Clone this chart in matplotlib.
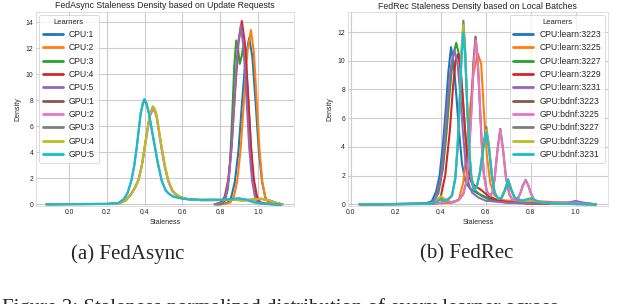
import matplotlib
matplotlib.use("Agg")
import matplotlib.pyplot as plt
import seaborn as sns

# FedAsync: staleness density per learner as (staleness, density) knots
fa_labels = ["CPU:1", "CPU:2", "CPU:3", "CPU:4", "CPU:5",
             "GPU:1", "GPU:2", "GPU:3", "GPU:4", "GPU:5"]

fa_cpu1 = [(0.78, 0.0), (0.81, 0.02), (0.839, 0.14), (0.858, 0.56), (0.877, 1.73), (0.896, 4.1),
           (0.915, 7.8), (0.934, 11.3), (0.953, 12.8), (0.970, 11.3), (0.987, 7.8), (1.004, 4.1),
           (1.021, 1.73), (1.038, 0.56), (1.055, 0.14), (1.09, 0.02), (1.12, 0.0)]
fa_cpu2 = [(0.78, 0.0), (0.82, 0.02), (0.854, 0.15), (0.872, 0.59), (0.890, 1.81), (0.908, 4.29),
           (0.926, 8.17), (0.944, 11.8), (0.962, 13.4), (0.977, 11.8), (0.992, 8.17), (1.007, 4.29),
           (1.022, 1.81), (1.037, 0.59), (1.052, 0.15), (1.09, 0.02), (1.12, 0.0)]
fa_cpu3 = [(0.78, 0.0), (0.81, 0.05), (0.825, 0.3), (0.84, 1.2), (0.852, 3.2), (0.863, 6.8),
           (0.874, 10.6), (0.884, 12.6), (0.894, 11.9), (0.903, 10.8), (0.913, 11.4), (0.923, 12.3),
           (0.933, 11.6), (0.945, 9.0), (0.958, 5.5), (0.970, 2.6), (0.983, 0.9), (0.996, 0.25),
           (1.02, 0.05), (1.12, 0.0)]
fa_cpu4 = [(0.77, 0.0), (0.806, 0.16), (0.824, 0.62), (0.842, 1.9), (0.860, 4.5), (0.878, 8.6),
           (0.896, 12.4), (0.914, 14.1), (0.930, 12.4), (0.946, 8.6), (0.962, 4.5), (0.978, 1.9),
           (0.994, 0.62), (1.010, 0.16), (1.05, 0.02), (1.12, 0.0)]
fa_cpu5 = [(0.77, 0.0), (0.812, 0.15), (0.828, 0.6), (0.844, 1.86), (0.860, 4.4), (0.876, 8.39),
           (0.892, 12.1), (0.908, 13.75), (0.923, 12.1), (0.938, 8.39), (0.953, 4.4), (0.968, 1.86),
           (0.983, 0.6), (0.998, 0.15), (1.04, 0.02), (1.12, 0.0)]
fa_gpu1 = [(-0.12, 0.0), (0.0, 0.02), (0.2, 0.03), (0.27, 0.1), (0.30, 0.3), (0.33, 0.8),
           (0.35, 1.3), (0.367, 1.85), (0.385, 3.0), (0.40, 4.4), (0.415, 5.8), (0.428, 6.9),
           (0.443, 7.45), (0.455, 7.2), (0.464, 6.7), (0.477, 5.5), (0.49, 4.3), (0.507, 2.9),
           (0.525, 1.8), (0.545, 1.1), (0.56, 0.82), (0.59, 0.55), (0.63, 0.4), (0.70, 0.32),
           (0.80, 0.33), (0.87, 0.36), (0.92, 0.3), (0.97, 0.36), (1.02, 0.42), (1.06, 0.3),
           (1.10, 0.1), (1.13, 0.0)]
fa_gpu2 = [(-0.12, 0.0), (0.0, 0.02), (0.2, 0.03), (0.27, 0.1), (0.30, 0.35), (0.33, 0.85),
           (0.35, 1.35), (0.367, 1.9), (0.385, 3.0), (0.40, 4.3), (0.415, 5.7), (0.428, 6.8),
           (0.445, 7.3), (0.456, 7.05), (0.465, 6.6), (0.477, 5.4), (0.49, 4.2), (0.507, 2.8),
           (0.525, 1.75), (0.545, 1.05), (0.56, 0.8), (0.59, 0.52), (0.63, 0.4), (0.70, 0.33),
           (0.80, 0.34), (0.87, 0.37), (0.92, 0.32), (0.97, 0.38), (1.01, 0.44), (1.06, 0.3),
           (1.10, 0.1), (1.13, 0.0)]
fa_gpu3 = [(-0.12, 0.0), (0.0, 0.02), (0.2, 0.03), (0.26, 0.1), (0.29, 0.4), (0.31, 0.9),
           (0.33, 1.85), (0.345, 3.0), (0.358, 4.4), (0.37, 5.9), (0.379, 7.0), (0.39, 7.7),
           (0.399, 8.0), (0.41, 7.7), (0.423, 6.9), (0.44, 5.5), (0.455, 4.3), (0.47, 3.1),
           (0.49, 1.8), (0.51, 1.1), (0.525, 0.85), (0.55, 0.6), (0.60, 0.44), (0.65, 0.36),
           (0.70, 0.35), (0.75, 0.36), (0.80, 0.35), (0.85, 0.38), (0.895, 0.45), (0.94, 0.35),
           (0.98, 0.15), (1.02, 0.05), (1.12, 0.0)]
fa_gpu4 = [(-0.12, 0.0), (0.0, 0.02), (0.2, 0.03), (0.27, 0.1), (0.30, 0.3), (0.33, 0.8),
           (0.35, 1.3), (0.367, 1.85), (0.385, 3.0), (0.40, 4.4), (0.415, 5.8), (0.428, 7.0),
           (0.443, 7.55), (0.455, 7.3), (0.464, 6.8), (0.477, 5.6), (0.49, 4.4), (0.507, 3.0),
           (0.525, 1.85), (0.545, 1.15), (0.56, 0.85), (0.59, 0.55), (0.63, 0.4), (0.70, 0.32),
           (0.80, 0.33), (0.87, 0.35), (0.92, 0.3), (0.97, 0.35), (1.02, 0.42), (1.06, 0.3),
           (1.10, 0.1), (1.13, 0.0)]
fa_gpu5 = [(-0.12, 0.0), (0.0, 0.02), (0.2, 0.03), (0.26, 0.1), (0.29, 0.4), (0.31, 0.9),
           (0.33, 1.85), (0.345, 3.0), (0.358, 4.4), (0.37, 5.9), (0.379, 7.0), (0.39, 7.8),
           (0.398, 8.1), (0.41, 7.8), (0.423, 7.0), (0.44, 5.6), (0.455, 4.4), (0.47, 3.2),
           (0.49, 1.85), (0.51, 1.1), (0.525, 0.85), (0.55, 0.6), (0.60, 0.44), (0.65, 0.36),
           (0.70, 0.35), (0.75, 0.36), (0.80, 0.35), (0.85, 0.38), (0.895, 0.47), (0.94, 0.35),
           (0.98, 0.15), (1.02, 0.05), (1.12, 0.0)]

# FedRec: staleness density per learner
fr_labels = ["CPU:learn:3223", "CPU:learn:3225", "CPU:learn:3227", "CPU:learn:3229",
             "CPU:learn:3231", "GPU:bdnf:3223", "GPU:bdnf:3225", "GPU:bdnf:3227",
             "GPU:bdnf:3229", "GPU:bdnf:3231"]

fr_cpu3223 = [(0.04, 0.0), (0.2, 0.02), (0.33, 0.05), (0.36, 0.2), (0.38, 0.9), (0.395, 2.0),
              (0.41, 4.2), (0.422, 6.5), (0.434, 9.2), (0.446, 10.95), (0.458, 9.8), (0.47, 7.5),
              (0.482, 5.0), (0.495, 2.8), (0.51, 1.6), (0.53, 1.1), (0.56, 0.8), (0.60, 0.5),
              (0.65, 0.25), (0.70, 0.15), (0.80, 0.1), (0.90, 0.05), (1.09, 0.0)]
fr_cpu3225 = [(0.04, 0.0), (0.3, 0.02), (0.45, 0.1), (0.48, 0.3), (0.50, 1.5), (0.515, 3.5),
              (0.53, 6.5), (0.545, 9.0), (0.565, 10.5), (0.58, 9.8), (0.592, 6.5), (0.605, 3.5),
              (0.62, 1.5), (0.64, 0.6), (0.67, 0.3), (0.70, 0.25), (0.80, 0.25), (0.90, 0.15),
              (1.0, 0.1), (1.09, 0.0)]
fr_cpu3227 = [(0.04, 0.0), (0.3, 0.03), (0.35, 0.08), (0.37, 0.2), (0.39, 0.8), (0.41, 2.5),
              (0.425, 4.8), (0.44, 7.8), (0.455, 10.3), (0.469, 11.25), (0.482, 10.4), (0.495, 8.0),
              (0.508, 5.2), (0.52, 3.0), (0.535, 1.6), (0.55, 1.0), (0.58, 0.6), (0.62, 0.3),
              (0.70, 0.1), (0.80, 0.05), (1.09, 0.0)]
fr_cpu3229 = [(0.04, 0.0), (0.3, 0.03), (0.38, 0.1), (0.40, 0.5), (0.42, 2.0), (0.44, 5.0),
              (0.455, 8.2), (0.466, 10.0), (0.477, 10.45), (0.488, 9.6), (0.498, 7.5), (0.51, 4.8),
              (0.52, 2.8), (0.53, 1.8), (0.55, 1.3), (0.58, 1.0), (0.61, 0.6), (0.65, 0.3),
              (0.70, 0.15), (0.80, 0.05), (1.09, 0.0)]
fr_cpu3231 = [(0.04, 0.0), (0.3, 0.03), (0.36, 0.1), (0.38, 0.5), (0.40, 1.8), (0.415, 4.0),
              (0.43, 7.0), (0.445, 9.6), (0.461, 10.75), (0.475, 9.8), (0.488, 7.5), (0.50, 4.8),
              (0.512, 2.6), (0.525, 1.4), (0.54, 0.8), (0.57, 0.45), (0.60, 0.25), (0.70, 0.1),
              (0.90, 0.05), (0.96, 0.1), (1.0, 0.23), (1.04, 0.1), (1.09, 0.0)]
fr_gpu3223 = [(0.04, 0.0), (0.35, 0.02), (0.40, 0.1), (0.43, 0.2), (0.45, 0.15), (0.48, 0.3),
              (0.50, 0.7), (0.515, 1.6), (0.525, 3.4), (0.535, 6.2), (0.545, 9.8), (0.555, 11.68),
              (0.564, 10.2), (0.572, 7.6), (0.582, 4.4), (0.592, 2.1), (0.605, 0.9), (0.62, 0.6),
              (0.63, 0.8), (0.64, 1.8), (0.652, 3.7), (0.665, 5.25), (0.678, 3.7), (0.69, 1.9),
              (0.705, 0.7), (0.72, 0.3), (0.74, 0.3), (0.755, 0.8), (0.765, 1.3), (0.778, 1.69),
              (0.79, 1.3), (0.80, 0.8), (0.815, 0.3), (0.84, 0.15), (0.90, 0.1), (1.0, 0.1),
              (1.09, 0.0)]
fr_gpu3225 = [(0.04, 0.0), (0.35, 0.02), (0.40, 0.1), (0.43, 0.2), (0.45, 0.15), (0.48, 0.3),
              (0.50, 0.7), (0.515, 1.6), (0.525, 3.3), (0.536, 6.2), (0.546, 9.6), (0.556, 11.45),
              (0.565, 10.0), (0.573, 7.5), (0.582, 4.3), (0.592, 2.0), (0.605, 0.9), (0.62, 0.6),
              (0.63, 0.8), (0.64, 1.8), (0.652, 3.7), (0.665, 5.2), (0.678, 3.7), (0.69, 1.9),
              (0.705, 0.7), (0.72, 0.3), (0.74, 0.3), (0.755, 0.8), (0.765, 1.3), (0.778, 1.65),
              (0.79, 1.3), (0.80, 0.8), (0.815, 0.3), (0.84, 0.15), (0.90, 0.1), (1.0, 0.1),
              (1.09, 0.0)]
fr_gpu3227 = [(0.04, 0.0), (0.35, 0.03), (0.37, 0.1), (0.39, 0.3), (0.40, 0.45), (0.41, 0.35),
              (0.43, 0.3), (0.45, 0.6), (0.465, 1.8), (0.475, 4.0), (0.485, 7.5), (0.493, 10.8),
              (0.501, 12.8), (0.509, 10.8), (0.517, 7.3), (0.525, 4.2), (0.535, 2.0), (0.548, 1.0),
              (0.56, 1.2), (0.575, 2.3), (0.59, 4.2), (0.603, 5.4), (0.615, 4.0), (0.628, 2.0),
              (0.64, 0.8), (0.655, 0.4), (0.67, 0.4), (0.685, 0.9), (0.70, 1.5), (0.715, 0.9),
              (0.73, 0.4), (0.76, 0.25), (0.80, 0.35), (0.84, 0.15), (0.90, 0.05), (1.09, 0.0)]
fr_gpu3229 = [(0.04, 0.0), (0.35, 0.03), (0.37, 0.1), (0.385, 0.35), (0.402, 0.56), (0.415, 0.4),
              (0.43, 0.3), (0.45, 0.6), (0.465, 1.8), (0.475, 4.0), (0.485, 7.4), (0.493, 10.6),
              (0.501, 12.5), (0.509, 10.6), (0.517, 7.2), (0.525, 4.1), (0.535, 2.0), (0.548, 1.0),
              (0.56, 1.2), (0.575, 2.2), (0.59, 4.0), (0.603, 5.2), (0.615, 3.9), (0.628, 2.0),
              (0.64, 0.8), (0.655, 0.4), (0.67, 0.45), (0.685, 1.0), (0.70, 1.7), (0.715, 1.0),
              (0.73, 0.45), (0.76, 0.25), (0.80, 0.3), (0.84, 0.15), (0.90, 0.05), (1.09, 0.0)]
fr_gpu3231 = [(0.04, 0.0), (0.35, 0.03), (0.37, 0.1), (0.39, 0.25), (0.40, 0.3), (0.41, 0.25),
              (0.43, 0.3), (0.45, 0.6), (0.465, 1.8), (0.475, 3.9), (0.485, 7.2), (0.493, 10.2),
              (0.501, 12.0), (0.509, 10.2), (0.518, 6.8), (0.527, 3.8), (0.537, 1.9), (0.548, 1.0),
              (0.56, 1.2), (0.575, 2.2), (0.59, 3.9), (0.603, 5.0), (0.615, 3.8), (0.628, 1.9),
              (0.64, 0.8), (0.655, 0.4), (0.67, 0.45), (0.685, 1.0), (0.70, 1.74), (0.715, 1.0),
              (0.73, 0.45), (0.76, 0.25), (0.80, 0.42), (0.84, 0.15), (0.90, 0.05), (1.09, 0.0)]

fa_series = [fa_cpu1, fa_cpu2, fa_cpu3, fa_cpu4, fa_cpu5,
             fa_gpu1, fa_gpu2, fa_gpu3, fa_gpu4, fa_gpu5]
fr_series = [fr_cpu3223, fr_cpu3225, fr_cpu3227, fr_cpu3229, fr_cpu3231,
             fr_gpu3223, fr_gpu3225, fr_gpu3227, fr_gpu3229, fr_gpu3231]

xticks = [0.0, 0.2, 0.4, 0.6, 0.8, 1.0]

sns.set_style("whitegrid")
plt.rcParams["font.family"] = ["Liberation Sans", "DejaVu Sans"]

colors = plt.cm.tab10.colors

fig = plt.figure(figsize=(6.36, 3.04), dpi=100)
W, H = 636.0, 304.0

ax1 = fig.add_axes([36 / W, (H - 206.3) / H, 258 / W, 194.4 / H])
ax2 = fig.add_axes([347.8 / W, (H - 206.0) / H, 260 / W, 194.0 / H])


def draw_panel(ax, series, labels, title, loc):
    for pts, lab, col in zip(series, labels, colors):
        xs = [p[0] for p in pts]
        ys = [p[1] for p in pts]
        ax.plot(xs, ys, color=col, lw=1.5, label=lab, solid_joinstyle="round")
    ax.set_title(title, fontsize=6.3, pad=2.5, color=".15")
    ax.set_xlabel("Staleness", fontsize=5.0, labelpad=2)
    ax.set_ylabel("Density", fontsize=5.0, labelpad=3)
    ax.set_xticks(xticks)
    ax.tick_params(labelsize=4.9, pad=2, length=0)
    ax.grid(True, color=".8", lw=0.8)
    for s in ax.spines.values():
        s.set_color(".85")
        s.set_linewidth(0.6)
    leg = ax.legend(title="Learners", loc=loc, fontsize=6.2, title_fontsize=5.5,
                    handlelength=2.3, handletextpad=0.7, labelspacing=0.5,
                    borderpad=0.45, borderaxespad=0.35, frameon=True, fancybox=True)
    leg.get_frame().set_edgecolor(".8")
    leg.get_frame().set_linewidth(0.6)
    for line in leg.get_lines():
        line.set_linewidth(2.0)


draw_panel(ax1, fa_series, fa_labels,
           "FedAsync Staleness Density based on Update Requests", "upper left")
ax1.set_xlim(-0.175, 1.19)
ax1.set_ylim(-0.15, 14.8)
ax1.set_yticks([0, 2, 4, 6, 8, 10, 12, 14])

draw_panel(ax2, fr_series, fr_labels,
           "FedRec Staleness Density based on Local Batches", "upper right")
ax2.set_xlim(-0.013, 1.143)
ax2.set_ylim(-0.12, 13.4)
ax2.set_yticks([0, 2, 4, 6, 8, 10, 12])

# sub-captions and the figure caption, which the page crop cuts through
fig.text(128 / W, 1 - 254 / H, "(a) FedAsync", family="Liberation Serif",
         fontsize=15, ha="center", va="center")
fig.text(467 / W, 1 - 254 / H, "(b) FedRec", family="Liberation Serif",
         fontsize=15, ha="center", va="center")
fig.text(2 / W, 1 - 298.5 / H,
         "Figure 3: Staleness normalized distribution of every learner across",
         family="Liberation Serif", fontsize=15, ha="left", va="top")

fig.savefig("out.png", dpi=100)
